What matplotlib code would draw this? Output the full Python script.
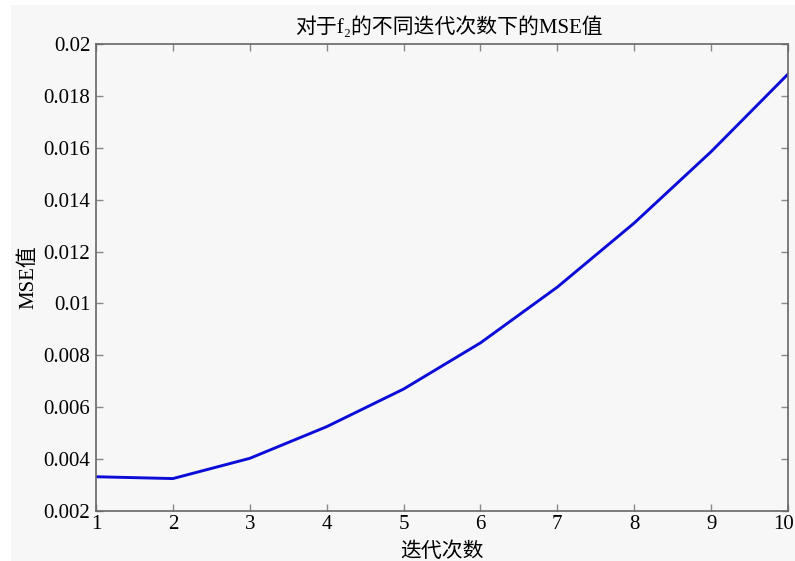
import matplotlib
matplotlib.use('Agg')
import matplotlib.pyplot as plt
import matplotlib.transforms as mtransforms
from matplotlib.patches import Rectangle

iterations = [1, 2, 3, 4, 5, 6, 7, 8, 9, 10]
mse = [0.00332, 0.00325, 0.00403, 0.00525, 0.00670, 0.00848, 0.01063, 0.01310, 0.01585, 0.01884]
y_ticks = [0.002, 0.004, 0.006, 0.008, 0.01, 0.012, 0.014, 0.016, 0.018, 0.02]
y_ticklabels = ['0.002', '0.004', '0.006', '0.008', '0.01', '0.012', '0.014', '0.016', '0.018', '0.02']

plt.rcParams['font.family'] = ['Liberation Serif', 'Noto Sans CJK SC', 'DejaVu Serif']

bg = '#f7f7f7'
fig = plt.figure(figsize=(7.95, 5.61), dpi=100)
fig.patch.set_facecolor('white')
fig.patches.append(Rectangle((11 / 795, 0), 1, 556 / 561, transform=fig.transFigure,
                             facecolor=bg, edgecolor='none', zorder=-10))

ax = fig.add_axes([96 / 795, 50 / 561, 692 / 795, 467 / 561])
ax.set_facecolor(bg)
ax.plot(iterations, mse, color='#0c0cd8', linewidth=2.1)

ax.set_xlim(1, 10)
ax.set_ylim(0.002, 0.02)
ax.set_xticks(iterations)
ax.set_yticks(y_ticks)
ax.set_yticklabels(y_ticklabels)
ax.tick_params(direction='in', top=True, right=True, length=5, width=1,
               color='#888888', labelsize=15, labelcolor='black')
ax.tick_params(axis='y', pad=4)
ax.tick_params(axis='x', pad=3)
for s in ax.spines.values():
    s.set_color('#666666')
    s.set_linewidth(1.2)

# keep the "10" label inside the picture, as in the original
last = ax.get_xticklabels()[-1]
last.set_transform(last.get_transform() + mtransforms.ScaledTranslation(-4 / 100, 0, fig.dpi_scale_trans))

ax.set_title('对于f₂的不同迭代次数下的MSE值', fontsize=15, pad=8, x=0.51)
ax.set_xlabel('迭代次数', fontsize=15, labelpad=6)
ax.set_ylabel('MSE值', fontsize=15, labelpad=4)

fig.savefig('out.png', dpi=100, facecolor=fig.get_facecolor())
